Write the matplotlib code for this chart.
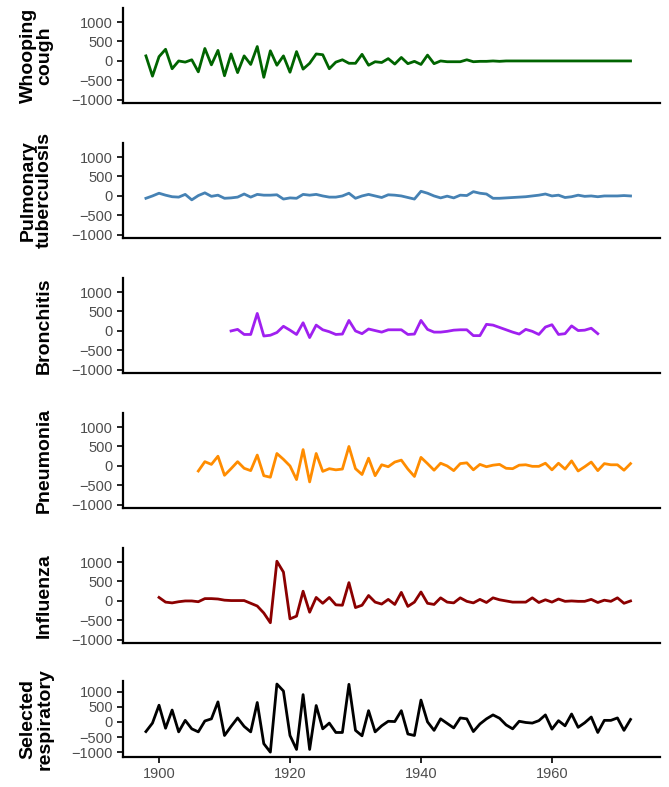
import numpy as np
import matplotlib
matplotlib.use("Agg")
import matplotlib.pyplot as plt

plt.rcParams['font.family'] = ['Liberation Sans', 'DejaVu Sans']

labels = ["Whooping\ncough", "Pulmonary\ntuberculosis", "Bronchitis", "Pneumonia", "Influenza", "Selected\nrespiratory"]
colors = ["#006400", "#4682B4", "#A020F0", "#FF8C00", "#8B0000", "#000000"]

whoop_start = 1898
whoop = [130, -390, 110, 300, -200, 0, -30, 30, -280, 320, -100, 270, -380, 180, -300, 130, -90, 370, -420, 260,
         -110, 130, -290, 240, -210, -60, 180, 160, -200, -30, 30, -60, -60, 170, -110, -20, -40, 60, -80, 90,
         -70, -10, -90, 150, -70, 0, -20, -20, -20, 30, -20, -10, -10, 0, -10, 0, 0, 0, 0, 0, 0, 0, 0, 0, 0, 0,
         0, 0, 0, 0, 0, 0, 0, 0, 0]
tb_start = 1898
tb = [-60, 0, 70, 20, -20, -30, 40, -100, 10, 80, -10, 20, -60, -50, -30, 50, -30, 40, 20, 20, 30, -80, -50,
      -60, 40, 20, 40, 0, -30, -30, 0, 70, -60, 0, 40, 0, -40, 30, 20, 0, -40, -80, 120, 70, 0, -50, -5, -50,
      20, 10, 110, 70, 50, -60, -60, -50, -40, -30, -20, 0, 20, 50, 0, 20, -40, -20, 20, -10, 0, -20, 0, 0, 0,
      10, 0]
bron_start = 1911
bron = [0, 40, -90, -90, 450, -130, -110, -40, 120, 20, -90, 210, -170, 150, 30, -20, -90, -80, 270, 0, -70,
        50, 10, -30, 30, 30, 30, -90, -80, 270, 40, -30, -30, -10, 20, 30, 30, -120, -120, 170, 150, 90, 30,
        -30, -80, 40, -10, -90, 100, 160, -90, -70, 130, 10, 20, 70, -70]
pneu_start = 1906
pneu = [-130, 110, 40, 250, -240, -70, 110, -60, -120, 280, -250, -290, 320, 170, 0, -350, 420, -410, 320,
        -140, -70, -100, -80, 500, -70, -220, 200, -250, 30, -20, 100, 150, -80, -270, 220, 60, -110, 70, 0,
        -120, 60, 80, -100, 40, -20, 20, 40, -60, -70, 20, 30, -10, -10, 70, -100, 70, -80, 130, -130, -20,
        100, -120, 60, 30, 30, -110, 60]
flu_start = 1900
flu = [90, -30, -50, -20, 0, 0, -20, 60, 60, 50, 20, 10, 10, 10, -60, -130, -310, -560, 1020, 740, -460, -390,
       250, -290, 90, -60, 90, -100, -110, 470, -170, -110, 140, -30, -80, 40, -90, 220, -140, -30, 230, -60,
       -90, 80, -30, -50, 80, -10, -50, 40, -40, 80, 30, 0, -30, -30, -30, 80, -40, 30, -30, 50, -10, 0, -10,
       -10, 40, -40, 20, -10, 80, -60, 0]
resp_start = 1898
resp = [-320, -40, 550, -210, 390, -330, 50, -230, -330, 30, 100, 660, -450, -150, 130, -150, -330, 640, -720,
        -1000, 1250, 1020, -450, -910, 900, -910, 540, -230, -40, -350, -350, 1240, -280, -460, 370, -330, -130,
        20, 10, 370, -400, -450, 720, 0, -280, 100, -50, -200, 130, 100, -320, -70, 100, 230, 120, -100, -230,
        20, -20, -40, 40, 230, -240, 40, -130, 260, -180, -30, 160, -350, 50, 50, 130, -280, 80]

series = [(whoop_start, whoop), (tb_start, tb), (bron_start, bron), (pneu_start, pneu), (flu_start, flu), (resp_start, resp)]

W, H = 669, 787
fig = plt.figure(figsize=(W/100, H/100), dpi=100)
left, right = 123, 660
for i, ((s, vals), lab, col) in enumerate(zip(series, labels, colors)):
    if i < 5:
        top, bot = 8 + 135*i, 103 + 135*i
        ylim = (-1080, 1360)
    else:
        top, bot = 681, 757
        ylim = (-1160, 1350)
    ax = fig.add_axes([left/W, 1 - bot/H, (right-left)/W, (bot-top)/H])
    yrs = np.arange(s, s + len(vals))
    ax.plot(yrs, vals, color=col, lw=2)
    ax.set_xlim(1894.5, 1976.5)
    ax.set_ylim(*ylim)
    ax.set_yticks([-1000, -500, 0, 500, 1000])
    for sp in ["top", "right"]:
        ax.spines[sp].set_visible(False)
    for sp in ["left", "bottom"]:
        ax.spines[sp].set_linewidth(1.6)
    ax.tick_params(axis="y", labelsize=10.5, labelcolor="#4d4d4d", width=1.2, length=4)
    ax.tick_params(axis="x", labelsize=10.5, labelcolor="#4d4d4d", width=1.2, length=4)
    if i < 5:
        ax.set_xticks([])
    else:
        ax.set_xticks([1900, 1920, 1940, 1960])
    ax.set_ylabel(lab, fontsize=14, fontweight="bold", linespacing=0.95)
    ax.yaxis.set_label_coords(-0.13, 0.5)
fig.savefig("out.png", dpi=100)
